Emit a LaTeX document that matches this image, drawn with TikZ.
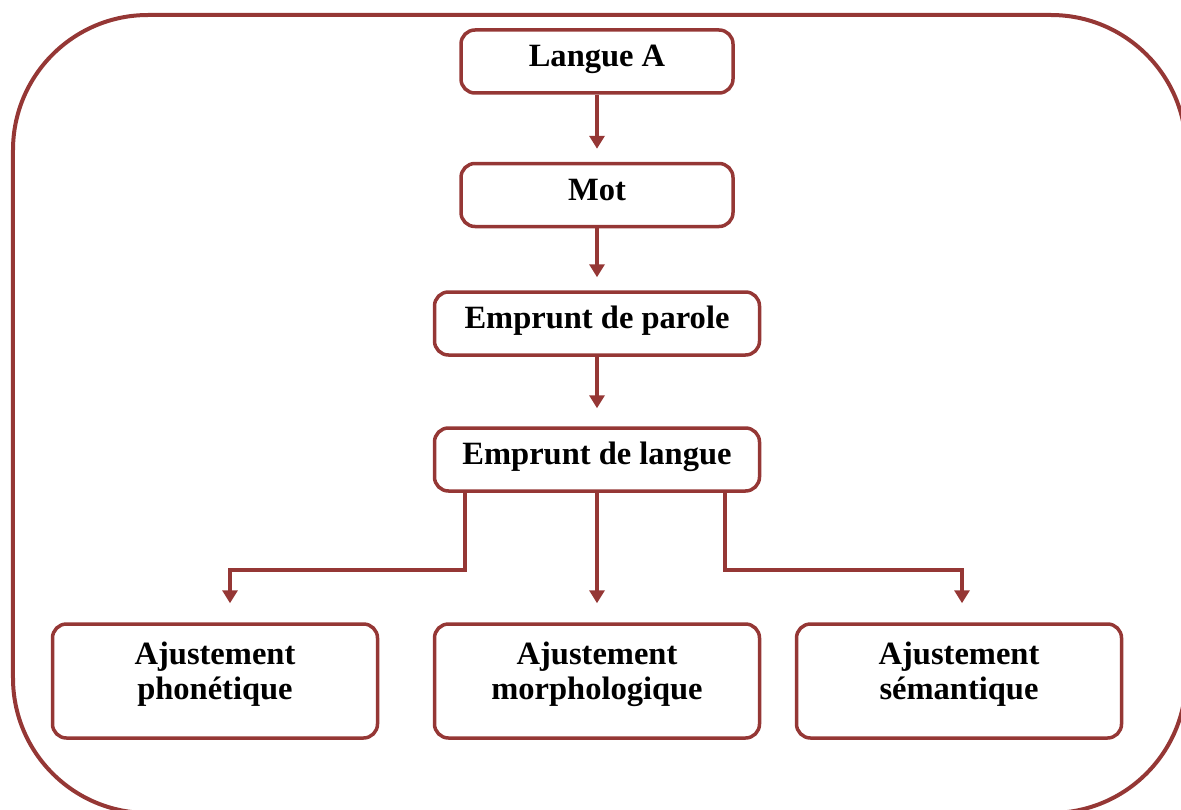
\documentclass[tikz,border=0pt]{standalone}
\usepackage{fontspec}
\setmainfont{Liberation Serif}
\usetikzlibrary{arrows.meta,calc}
\definecolor{borrowred}{RGB}{149,55,53}

\begin{document}
\begin{tikzpicture}[
    >={Triangle[width=0.30cm, length=0.26cm]},
    stagebox/.style   = {draw=borrowred, line width=0.07cm, rounded corners=0.28cm,
                         minimum width=6.5cm, minimum height=1.26cm,
                         text height=0.43cm, text depth=0.22cm,
                         font=\bfseries\fontsize{18.5}{20}\selectfont, text=black},
    adjustbox/.style  = {stagebox, minimum height=2.28cm, align=center,
                         text height=, text depth=0.42cm},
    flow/.style       = {->, line width=0.08cm, borrowred},
    outerframe/.style = {draw=borrowred, line width=0.08cm, rounded corners=2.7cm}
  ]

% picture area (1cm = 50px of the reference)
\clip (0,0) rectangle (23.62,16.18);
\useasboundingbox (0,0) rectangle (23.62,16.18);

% =========================================================
% Outer frame (runs off the right and bottom edges)
% =========================================================
\draw[outerframe] (0.26,-0.08) rectangle (23.72,15.88);

% =========================================================
% Main chain
% =========================================================
\node[stagebox, minimum width=5.44cm] (langue)    at (11.94,14.95) {Langue A};
\node[stagebox, minimum width=5.44cm] (mot)       at (11.94,12.28) {Mot};
\node[stagebox]                       (parole)    at (11.94, 9.71) {Emprunt de parole};
\node[stagebox]                       (emplangue) at (11.94, 6.99) {Emprunt de langue};

% Adjustments
\node[adjustbox] (phon)  at ( 4.30,2.56) {Ajustement\\phonétique};
\node[adjustbox] (morph) at (11.94,2.56) {Ajustement\\morphologique};
\node[adjustbox] (sem)   at (19.18,2.56) {Ajustement\\sémantique};

% =========================================================
% Connectors
% =========================================================
\draw[flow, shorten >=0.26cm] (langue) -- (mot);
\draw[flow, shorten >=0.26cm] (mot) -- (parole);
\draw[flow, shorten >=0.36cm] (parole) -- (emplangue);

\draw[flow, shorten >=0.38cm] ([xshift=-2.64cm]emplangue.south) -- ++(0,-1.54)
  -| ([xshift=0.30cm]phon.north);
\draw[flow, shorten >=0.38cm] (emplangue.south) -- (morph.north);
\draw[flow, shorten >=0.38cm] ([xshift=2.56cm]emplangue.south) -- ++(0,-1.54)
  -| ([xshift=0.06cm]sem.north);

\end{tikzpicture}
\end{document}
